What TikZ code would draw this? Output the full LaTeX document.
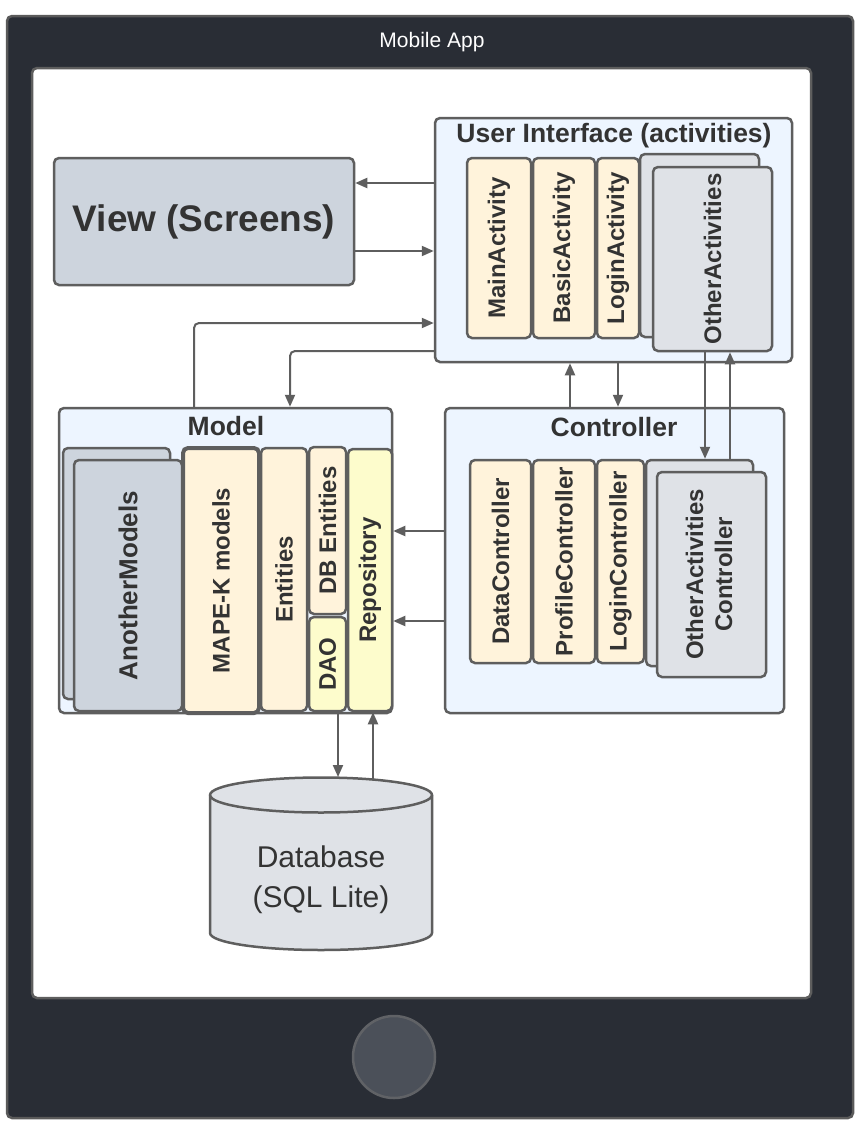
\documentclass[tikz,border=0pt]{standalone}
\usepackage{fontspec}
\setmainfont{Liberation Sans}
\usetikzlibrary{arrows.meta}
\definecolor{devfill}{HTML}{292D35}
\definecolor{devline}{HTML}{5A5A5A}
\definecolor{edgec}{HTML}{5E5E5E}
\definecolor{txt}{HTML}{333333}
\definecolor{lblue}{HTML}{EDF5FF}
\definecolor{cream}{HTML}{FFF3DB}
\definecolor{yel}{HTML}{FDFCCC}
\definecolor{gcard}{HTML}{DFE2E7}
\definecolor{bcard}{HTML}{CDD4DD}
\definecolor{homefill}{HTML}{4B5059}
\definecolor{homeline}{HTML}{606266}
\begin{document}
\begin{tikzpicture}[x=1pt,y=-1pt,
  box/.style={draw=edgec, line width=2.5pt, rounded corners=5pt, inner sep=0pt, text=txt},
  container/.style={box, fill=lblue},
  card/.style={box, font=\bfseries\fontsize{24}{30}\selectfont},
  creamcard/.style={card, fill=cream},
  yelcard/.style={card, fill=yel},
  graycard/.style={card, fill=gcard},
  bluecard/.style={card, fill=bcard},
  ttl/.style={font=\bfseries\fontsize{26.5}{30}\selectfont, text=txt, inner sep=0pt},
  arr/.style={draw=edgec, line width=2pt, -{Triangle[length=12pt,width=10pt]}},
]
\useasboundingbox (0,0) rectangle (863,1133);

% device
\node[draw=devline, fill=devfill, line width=2.5pt, rounded corners=5pt, minimum width=846pt, minimum height=1102pt] (dev) at (430,567) {};
\node[text=white, font=\fontsize{21}{25}\selectfont, inner sep=0pt] (apptitle) at (432,42) {Mobile App};
\node[draw=edgec, fill=white, line width=2.5pt, rounded corners=5pt, minimum width=779pt, minimum height=930pt] (screen) at (421.5,533) {};
\node[circle, draw=homeline, fill=homefill, line width=2.5pt, minimum size=82pt, inner sep=0pt] (home) at (394,1057) {};

% view
\node[box, fill=bcard, minimum width=300pt, minimum height=127pt, font=\bfseries\fontsize{37}{44}\selectfont] (view) at (204,221.5) {\raisebox{5pt}{View (Screens)}};

% user interface
\node[container, minimum width=357pt, minimum height=244pt] (ui) at (613.5,240) {};
\node[ttl] (uititle) at (614,136) {User Interface (activities)};
\node[creamcard, minimum width=64pt, minimum height=180pt] (mainact) at (499,248) {\rotatebox{90}{MainActivity}};
\node[creamcard, minimum width=62pt, minimum height=180pt] (basicact) at (564,248) {\rotatebox{90}{BasicActivity}};
\node[creamcard, minimum width=42pt, minimum height=180pt] (loginact) at (618,248) {\rotatebox{90}{LoginActivity}};
\node[graycard, minimum width=119pt, minimum height=183pt] (otherback) at (699.5,245.5) {};
\node[graycard, minimum width=119pt, minimum height=184pt] (otherfront) at (712.5,259) {\rotatebox{90}{OtherActivities}};

% model
\node[container, minimum width=333pt, minimum height=305pt] (model) at (225.5,560.5) {};
\node[ttl] (modeltitle) at (226,426) {Model};
\node[bluecard, minimum width=107pt, minimum height=251pt] (anotherback) at (116.5,573.5) {};
\node[bluecard, minimum width=108pt, minimum height=251pt, font=\bfseries\fontsize{26}{30}\selectfont] (anotherfront) at (128,585.5) {\rotatebox{90}{AnotherModels}};
\node[creamcard, line width=4pt, minimum width=76pt, minimum height=265pt] (mapek) at (221,580.5) {\rotatebox{90}{MAPE-K models}};
\node[creamcard, minimum width=46pt, minimum height=263pt] (entities) at (284,579.5) {\rotatebox{90}{Entities}};
\node[creamcard, minimum width=37pt, minimum height=167pt] (dbent) at (327.5,530.5) {\rotatebox{90}{DB Entities}};
\node[yelcard, minimum width=37pt, minimum height=94pt] (dao) at (327.5,664) {\rotatebox{90}{DAO}};
\node[yelcard, minimum width=44pt, minimum height=262pt] (repo) at (370,580) {\rotatebox{90}{Repository}};

% controller
\node[container, minimum width=339pt, minimum height=305pt] (ctrl) at (614.5,560.5) {};
\node[ttl] (ctrltitle) at (614,427) {Controller};
\node[creamcard, minimum width=61pt, minimum height=203pt] (datac) at (500.5,561.5) {\rotatebox{90}{DataController}};
\node[creamcard, minimum width=62pt, minimum height=203pt] (profc) at (564,561.5) {\rotatebox{90}{ProfileController}};
\node[creamcard, minimum width=47pt, minimum height=203pt] (loginc) at (620.5,561.5) {\rotatebox{90}{LoginController}};
\node[graycard, minimum width=107pt, minimum height=206pt] (otherbackc) at (699.5,563) {};
\node[graycard, minimum width=109pt, minimum height=205pt] (otherfrontc) at (711.5,574.5) {\rotatebox{90}{\begin{tabular}{@{}c@{}}OtherActivities\\[-1pt]Controller\end{tabular}}};

% database
\draw[draw=edgec, fill=gcard, line width=2.5pt] (210,795) -- (210,933) arc[start angle=180, end angle=0, x radius=111, y radius=17] -- (432,795) arc[start angle=0, end angle=-180, x radius=111, y radius=17.5] -- cycle;
\draw[draw=edgec, line width=2.5pt] (210,795) arc[start angle=180, end angle=0, x radius=111, y radius=17.5];
\node[font=\fontsize{30}{40}\selectfont, text=txt, align=center, inner sep=0pt] (db) at (321,880) {Database\\(SQL Lite)};
\coordinate (dbinA) at (338,777);
\coordinate (dbinB) at (373,779);

% connectors
\draw[arr] (ui.west |- 0,183) -- (view.east |- 0,183);
\draw[arr] (view.east |- 0,251) -- (ui.west |- 0,251);
\draw[arr, rounded corners=5pt] (model.north -| 194,0) |- (ui.west |- 0,323);
\draw[arr, rounded corners=5pt] (ui.west |- 0,351) -| (model.north -| 290,0);
\draw[arr] (ctrl.north -| 570,0) -- (ui.south -| 570,0);
\draw[arr] (ui.south -| 618,0) -- (ctrl.north -| 618,0);
\draw[arr] (otherfront.south -| 705,0) -- (otherbackc.north -| 705,0);
\draw[arr] (otherbackc.north -| 730,0) -- (otherfront.south -| 730,0);
\draw[arr] (ctrl.west |- 0,531) -- (repo.east |- 0,531);
\draw[arr] (ctrl.west |- 0,621) -- (repo.east |- 0,621);
\draw[arr] (dao.south -| 338,0) -- (dbinA);
\draw[arr] (dbinB) -- (repo.south -| 373,0);
\end{tikzpicture}
\end{document}
